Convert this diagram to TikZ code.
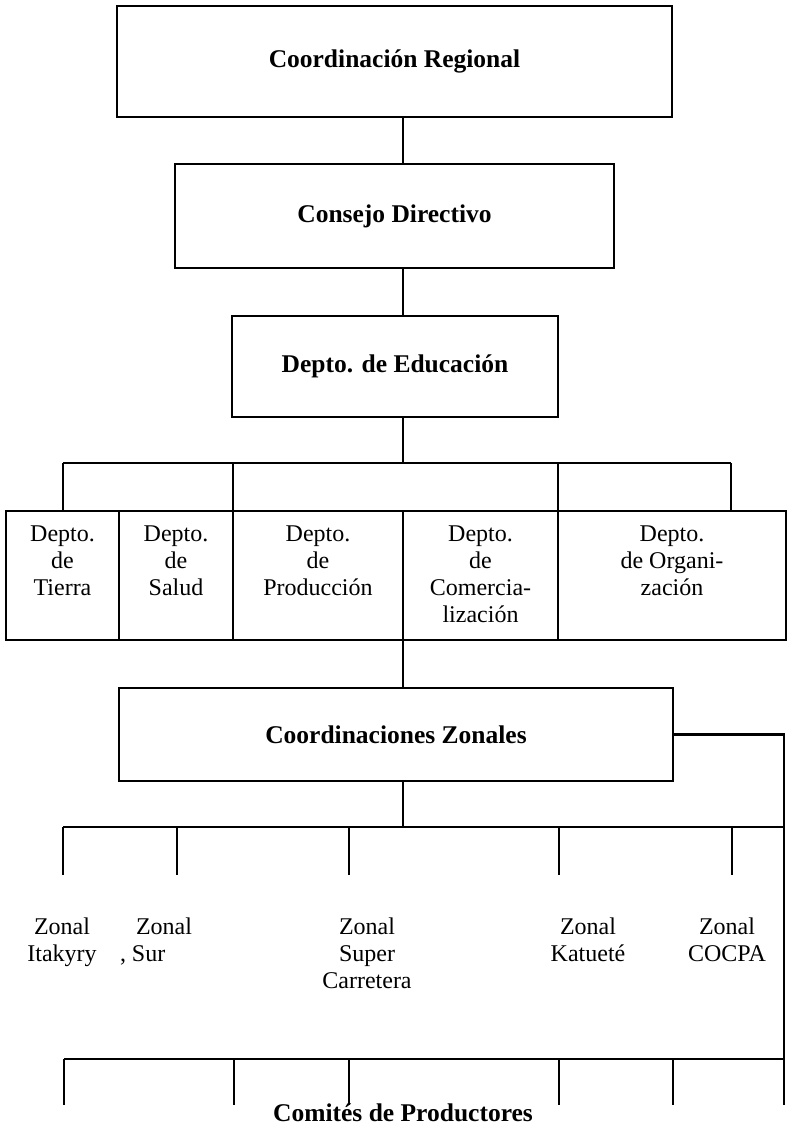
\documentclass[tikz,border=0pt]{standalone}
\usepackage{fontspec}
\setmainfont{Liberation Serif}
\begin{document}
\begin{tikzpicture}[x=1pt,y=-1pt,
  conn/.style={line width=2.2pt},
  box/.style={draw, line width=2.2pt, rectangle, inner sep=0pt, outer sep=0pt},
  title/.style={font=\bfseries\fontsize{25.5}{28}\selectfont},
  lbl/.style={font=\fontsize{24}{27}\selectfont, align=center, inner sep=0pt, anchor=north}]
\useasboundingbox (0,0) rectangle (789,1126);

% spine of the chart
\coordinate (sp) at (403,0);

% top three levels
\node[box, title, minimum width=555pt, minimum height=111pt] (reg) at (394.5,61.5) {Coordinación Regional};
\node[box, title, minimum width=439pt, minimum height=104pt] (dir) at (394.5,216) {Consejo Directivo};
\node[box, title, minimum width=326pt, minimum height=101pt] (edu) at (395,366.5) {Depto. de Educación};

\draw[conn] (reg.south -| sp) -- (dir.north -| sp);
\draw[conn] (dir.south -| sp) -- (edu.north -| sp);

% departments row
\node[box, minimum width=113pt, minimum height=129pt] (d1) at (62.5,575.5) {};
\node[box, minimum width=114pt, minimum height=129pt] (d2) at (176,575.5) {};
\node[box, minimum width=170pt, minimum height=129pt] (d3) at (318,575.5) {};
\node[box, minimum width=155pt, minimum height=129pt] (d4) at (480.5,575.5) {};
\node[box, minimum width=228pt, minimum height=129pt] (d5) at (672,575.5) {};

\node[lbl] (t1) at ([yshift=-15pt]d1.north) {Depto.\\de\\Tierra};
\node[lbl] (t2) at ([yshift=-15pt]d2.north) {Depto.\\de\\Salud};
\node[lbl] (t3) at ([yshift=-15pt]d3.north) {Depto.\\de\\Producción};
\node[lbl] (t4) at ([yshift=-15pt]d4.north) {Depto.\\de\\Comercia-\\lización};
\node[lbl] (t5) at ([yshift=-15pt]d5.north) {Depto.\\de Organi-\\zación};

% branch bar above the departments
\coordinate (b1) at (403,463);
\coordinate (b1l) at (63,463);
\coordinate (b1r) at (731,463);
\draw[conn] (edu.south -| sp) -- (b1);
\draw[conn] (b1l) -- (b1r);
\draw[conn] (b1l) -- (d1.north -| b1l);
\draw[conn] (d2.north east |- b1) -- (d2.north east);
\draw[conn] (d4.north east |- b1) -- (d4.north east);
\draw[conn] (b1r) -- (d5.north -| b1r);

% zonal coordination
\node[box, title, minimum width=554pt, minimum height=93pt] (zon) at (396,734.5) {Coordinaciones Zonales};
\draw[conn] (d3.south -| sp) -- (zon.north -| sp);

% trunk on the right down to the committees
\coordinate (tr) at (784,734.5);
\coordinate (trb) at (784,1105);
\draw[conn] (zon.east) -- (tr) -- (trb);

% bar of the zones
\coordinate (b2) at (403,827);
\coordinate (b2l) at (63,827);
\draw[conn] (zon.south -| sp) -- (b2);
\draw[conn] (b2l) -- (b2l -| tr);
\foreach \x/\n in {63/z1,177/z2,349/z3,559/z4,732/z5}{
  \coordinate (\n a) at (\x,827);
  \coordinate (\n b) at (\x,875);
  \draw[conn] (\n a) -- (\n b);
}

\node[lbl] (l1) at (62,918) {Zonal\\Itakyry};
\node[lbl, align=left] (l2) at (156,918) {\hspace*{16pt}Zonal\\, Sur};
\node[lbl] (l3) at (367,918) {Zonal\\Super\\Carretera};
\node[lbl] (l4) at (588,918) {Zonal\\Katueté};
\node[lbl] (l5) at (727,918) {Zonal\\COCPA};

% bar of the committees
\coordinate (b3l) at (64,1059);
\draw[conn] (b3l) -- (b3l -| tr);
\foreach \x/\n in {64/c1,234/c2,349/c3,559/c4,673/c5}{
  \coordinate (\n a) at (\x,1059);
  \coordinate (\n b) at (\x,1105);
  \draw[conn] (\n a) -- (\n b);
}
\node[title, anchor=base, inner sep=0pt] (com) at (403,1121) {Comités de Productores};
\end{tikzpicture}
\end{document}
